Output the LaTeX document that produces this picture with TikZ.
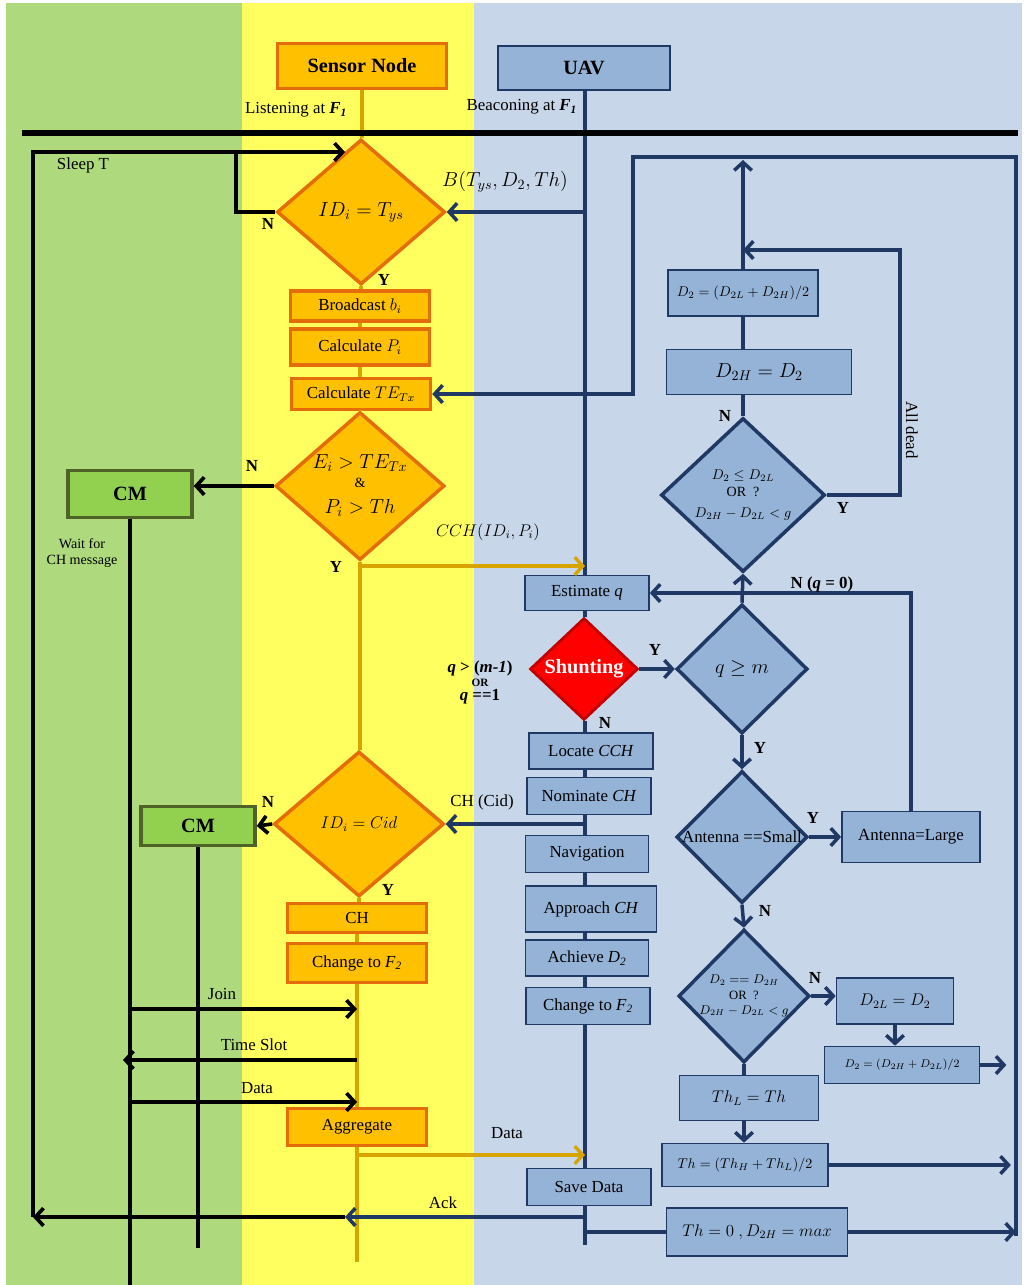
\documentclass[tikz,border=0pt]{standalone}
\usepackage{fontspec}
\setmainfont{Liberation Serif}
\usetikzlibrary{shapes.geometric,arrows.meta}

\definecolor{bandgreen}{RGB}{174,218,125}
\definecolor{bandyellow}{RGB}{255,255,96}
\definecolor{bandblue}{RGB}{200,214,234}
\definecolor{boxblue}{RGB}{149,179,215}
\definecolor{navy}{RGB}{31,56,100}
\definecolor{orfill}{RGB}{255,192,0}
\definecolor{ordraw}{RGB}{228,108,10}
\definecolor{cmfill}{RGB}{146,208,80}
\definecolor{cmdraw}{RGB}{79,98,40}
\definecolor{lifeor}{RGB}{216,164,0}
\definecolor{shred}{RGB}{255,0,0}
\definecolor{shdraw}{RGB}{192,0,0}

\begin{document}
\begin{tikzpicture}[x=0.025cm, y=-0.025cm,
    >={Straight Barb[length=2mm,width=4.4mm]},
    every node/.style={font=\large},
    obox/.style={draw=ordraw, fill=orfill, line width=2.5pt, inner sep=0pt},
    odia/.style={diamond, draw=ordraw, fill=orfill, line width=2.5pt, inner sep=0pt},
    bbox/.style={draw=navy, fill=boxblue, line width=1.2pt, inner sep=0pt},
    bdia/.style={diamond, draw=navy, fill=boxblue, line width=2.5pt, inner sep=0pt},
    cmbox/.style={draw=cmdraw, fill=cmfill, line width=2.5pt, inner sep=0pt, font=\Large\bfseries},
    nv/.style={draw=navy, line width=2.5pt},
    bk/.style={draw=black, line width=2.6pt},
    ol/.style={draw=lifeor, line width=2.4pt},
    yn/.style={font=\large\bfseries, inner sep=1pt}]
    \useasboundingbox (0,0) rectangle (1024,1285);
    \path[fill=white] (0,0) rectangle (1024,1285);
    \path[fill=bandgreen] (6,3) rectangle (242,1285);
    \path[fill=bandyellow] (242,3) rectangle (474,1285);
    \path[fill=bandblue] (474,3) rectangle (1022,1285);

    % sensor node
    \node[obox, minimum width=4.225cm, minimum height=1.125cm, font=\Large\bfseries] at (362,66) (sn) {Sensor Node};
    \node[odia, minimum width=4.2cm, minimum height=3.625cm, font=\Large] at (361,212) (d1) {$ID_i = T_{ys}$};
    \node[obox, minimum width=3.475cm, minimum height=0.75cm] at (360,306) (bc) {Broadcast $b_i$};
    \node[obox, minimum width=3.475cm, minimum height=0.9cm] at (360,347) (cp) {Calculate $P_i$};
    \node[obox, minimum width=3.475cm, minimum height=0.775cm] at (361,394) (cte) {Calculate $TE_{Tx}$};
    \node[odia, aspect=1.15, minimum width=4.225cm, minimum height=3.7cm, font=\Large, align=center] at (360,486) (d2)
        {$E_i > TE_{Tx}$\\[-5pt]{\normalsize\&}\\[1pt]$P_i > Th$};
    \node[cmbox, minimum width=3.1cm, minimum height=1.175cm] at (130,494) (cm1) {CM};
    \node[odia, minimum width=4.25cm, minimum height=3.625cm] at (359,824) (d3) {$ID_i = Cid$};
    \node[cmbox, minimum width=2.85cm, minimum height=0.975cm] at (198,826) (cm2) {CM};
    \node[obox, minimum width=3.475cm, minimum height=0.725cm] at (357,918) (ch) {CH};
    \node[obox, minimum width=3.475cm, minimum height=0.975cm] at (357,963) (cf) {Change to \textit{F\textsubscript{2}}};
    \node[obox, minimum width=3.475cm, minimum height=0.925cm] at (357,1127) (ag) {Aggregate};

    % uav
    \node[bbox, minimum width=4.3cm, minimum height=1.1cm, font=\Large\bfseries] at (584,68) (uav) {UAV};
    \node[bbox, minimum width=3.1cm, minimum height=0.875cm] at (587,593) (est) {Estimate \textit{q}};
    \node[diamond, draw=shdraw, fill=shred, line width=2pt, inner sep=0pt, minimum width=2.7cm, minimum height=2.55cm,
        text=white, font=\Large\bfseries] at (584,669) (sh) {Shunting};
    \node[bbox, minimum width=3.1cm, minimum height=0.9cm] at (591,751) (loc) {Locate \textit{CCH}};
    \node[bbox, minimum width=3.1cm, minimum height=0.925cm] at (589,796) (nom) {Nominate \textit{CH}};
    \node[bbox, minimum width=3.075cm, minimum height=0.925cm] at (587,854) (nav) {Navigation};
    \node[bbox, minimum width=3.275cm, minimum height=1.15cm] at (591,909) (app) {Approach \textit{CH}};
    \node[bbox, minimum width=3.075cm, minimum height=0.9cm] at (587,958) (ach) {Achieve \textit{D\textsubscript{2}}};
    \node[bbox, minimum width=3.1cm, minimum height=0.925cm] at (588,1006) (uf) {Change to \textit{F\textsubscript{2}}};
    \node[bbox, minimum width=3.1cm, minimum height=0.925cm] at (589,1187) (sv) {Save Data};

    % search for D2 and Th
    \node[bbox, minimum width=3.75cm, minimum height=1.15cm, font=\normalsize] at (743,293) (d2m) {$D_2 = (D_{2L}+D_{2H})/2$};
    \node[bbox, minimum width=4.625cm, minimum height=1.125cm, font=\Large] at (759,372) (d2h) {$D_{2H} = D_2$};
    \node[bdia, aspect=1.1, minimum width=4.1cm, minimum height=3.85cm, font=\normalsize, align=center] at (743,495) (dlo)
        {$D_2 \le D_{2L}$\\OR\enspace ?\\[3pt]$D_{2H}-D_{2L}<g$};
    \node[bdia, minimum width=3.275cm, minimum height=3.225cm, font=\Large] at (742,669) (dq) {$q \ge m$};
    \node[bdia, minimum width=3.275cm, minimum height=3.3cm] at (742,837) (dant) {\makebox[0pt]{Antenna ==Small}};
    \node[bbox, minimum width=3.45cm, minimum height=1.275cm] at (911,837) (al) {Antenna=Large};
    \node[bdia, minimum width=3.275cm, minimum height=3.325cm, font=\small] at (744,996) (dhi)
        {\makebox[0pt]{\begin{tabular}{@{}c@{}}$D_2 == D_{2H}$\\OR\enspace ?\\$D_{2H}-D_{2L}<g$\end{tabular}}};
    \node[bbox, minimum width=2.925cm, minimum height=1.15cm] at (895,1001) (d2l) {$D_{2L} = D_2$};
    \node[bbox, minimum width=3.875cm, minimum height=0.925cm, font=\footnotesize] at (902,1065) (d2a) {$D_2 = (D_{2H}+D_{2L})/2$};
    \node[bbox, minimum width=3.475cm, minimum height=1.125cm] at (749,1098) (thl) {$Th_L = Th$};
    \node[bbox, minimum width=4.15cm, minimum height=1.075cm, font=\normalsize] at (745,1165) (thm) {$Th = (Th_H + Th_L)/2$};
    \node[bbox, minimum width=4.525cm, minimum height=1.2cm] at (757,1232) (th0) {$Th = 0\ , D_{2H} = max$};

    \coordinate (uavx) at (585,0);
    \coordinate (uavend) at (585,1245);
    \coordinate (snend) at (357,1262);
    \coordinate (cm1end) at (130,1285);
    \coordinate (cm2end) at (200,1248);
    \coordinate (nloop) at (236,152);
    \coordinate (sleeptip) at (345,152);
    \coordinate (sleepc) at (33,1217);
    \coordinate (ackc) at (345,1217);
    \coordinate (cchs) at (360,566);
    \coordinate (datas) at (357,1155);
    \coordinate (joinc) at (130,1009);
    \coordinate (tsc) at (123,1060);
    \coordinate (datc) at (130,1102);
    \coordinate (uptip) at (743,160);
    \coordinate (deadtop) at (900,250);
    \coordinate (rtop) at (1016,157);
    \coordinate (rbot) at (1016,1236);
    \coordinate (ltop) at (633,157);
    \coordinate (hl1) at (22,133);
    \coordinate (hl2) at (1018,133);

    % lifelines
    \foreach \a/\b in {sn/d1, d1/bc, bc/cp, cp/cte, cte/d2, d2/d3, d3/ch, ch/cf, cf/ag}
        \draw[ol] (\a.south) -- (\a.south |- \b.north);
    \draw[ol] (ag.south) -- (snend);
    \foreach \a/\b in {uav/est, est/sh, sh/loc, loc/nom, nom/nav, nav/app, app/ach, ach/uf, uf/sv}
        \draw[nv] (\a.south -| uavx) -- (\b.north -| uavx);
    \draw[nv] (sv.south -| uavx) -- (uavend);
    \draw[line width=4.5pt] (hl1) -- (hl2);

    % sensor side
    \draw[nv,->] (d1.east -| uavx) -- (d1.east);
    \draw[bk] (d1.west) -| (nloop);
    \draw[bk,->] (sleepc) |- (sleeptip);
    \draw[bk,->] (d2.west) -- (d2.west -| cm1.east);
    \draw[bk] (cm1.south) -- (cm1end);
    \draw[ol,->] (cchs) -- (cchs -| uavx);
    \draw[nv,->] (d3.east -| uavx) -- (d3.east);
    \draw[bk,->] (d3.west) -- (cm2.east);
    \draw[bk] (cm2.south) -- (cm2.south |- cm2end);
    \draw[bk,->] (joinc) -- (joinc -| ag.north);
    \draw[bk,->] (tsc -| ag.north) -- (tsc);
    \draw[bk,->] (datc) -- (datc -| ag.north);
    \draw[ol,->] (datas) -- (datas -| uavx);
    \draw[nv,->] (ackc -| uavx) -- (ackc);
    \draw[bk,->] (ackc) -- (sleepc);

    % uav side
    \draw[nv,->] (sh.east) -- (dq.west);
    \draw[nv,->] (d2m.north) -- (uptip);
    \draw[nv] (d2m.south) -- (d2m.south |- d2h.north);
    \draw[nv] (d2m.south |- d2h.south) -- (dlo.north);
    \draw[nv,->] (dlo.east) -| (deadtop) -- (deadtop -| d2m.north);
    \draw[nv,->] (dq.north) -- (dlo.south);
    \draw[nv,->] (dq.south) -- (dant.north);
    \draw[nv,->] (dant.east) -- (al.west);
    \draw[nv,->] (al.north) |- (est.east);
    \draw[nv,->] (dant.south) -- (dhi.north);
    \draw[nv,->] (dhi.east) -- (dhi.east -| d2l.west);
    \draw[nv,->] (d2l.south) -- (d2l.south |- d2a.north);
    \draw[nv,->] (d2a.east) -- ++(26,0);
    \draw[nv] (dhi.south) -- (dhi.south |- thl.north);
    \draw[nv,->] (thl.south -| dhi.south) -- (thm.north -| dhi.south);
    \draw[nv,->] (thm.east) -- ++(182,0);
    \draw[nv] (th0.west -| uavx) -- (th0.west);
    \draw[nv,->] (th0.east) -- (th0.east -| rbot);
    \draw[nv,->] (rbot) -- (rtop) -- (ltop) |- (cte.east);

    % labels
    \node[anchor=east] at (352,110) (llis) {Listening at \textbf{\textit{F\textsubscript{1}}}};
    \node[anchor=east] at (582,107) (lbea) {Beaconing at \textbf{\textit{F\textsubscript{1}}}};
    \node at (83,165) (lsleep) {Sleep T};
    \node[yn] at (268,224) (n1) {N};
    \node[yn] at (384,280) (y1) {Y};
    \node[font=\Large] at (505,182) (lb) {$B(T_{ys},D_2,Th)$};
    \node[yn] at (252,466) (n2) {N};
    \node[font=\normalsize, align=center] at (82,553) (lwait) {Wait for\\CH message};
    \node[yn] at (336,567) (y2) {Y};
    \node at (488,532) (lcch) {$CCH(ID_i,P_i)$};
    \node[font=\large\bfseries, align=center] at (480,682) (lsh) {\textit{q} > (\textit{m-1})\\[-4pt]{\footnotesize OR}\\[-4pt]\textit{q} ==1};
    \node[yn] at (655,650) (y3) {Y};
    \node[yn] at (605,723) (n3) {N};
    \node[yn] at (268,802) (n4) {N};
    \node at (482,802) (lcid) {CH (Cid)};
    \node[yn] at (388,890) (y4) {Y};
    \node at (222,994) (ljoin) {Join};
    \node at (254,1045) (lts) {Time Slot};
    \node at (257,1088) (ldata) {Data};
    \node at (507,1133) (ldata2) {Data};
    \node at (443,1203) (lack) {Ack};
    \node[yn] at (725,416) (n5) {N};
    \node[yn] at (843,508) (y5) {Y};
    \node[rotate=-90] at (912,430) (ldead) {All dead};
    \node[yn] at (822,584) (nq) {N (\textit{q} = 0)};
    \node[yn] at (760,748) (y6) {Y};
    \node[yn] at (813,818) (y7) {Y};
    \node[yn] at (765,911) (n6) {N};
    \node[yn] at (815,978) (n7) {N};
\end{tikzpicture}
\end{document}
